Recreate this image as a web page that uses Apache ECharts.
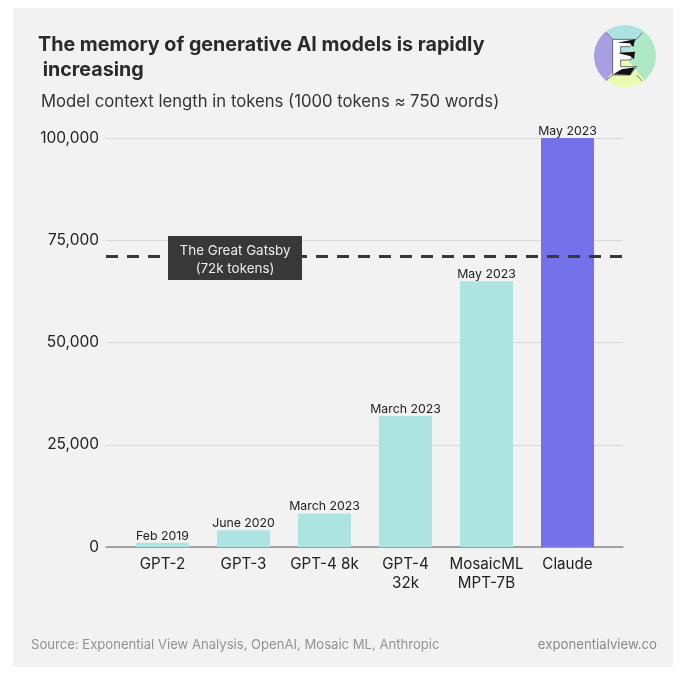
<!DOCTYPE html>
<html><head><meta charset="utf-8">
<style>html,body{margin:0;padding:0;background:#fff}#c{width:680px;height:675px}</style>
<script src="https://cdn.jsdelivr.net/npm/echarts@6/dist/echarts.min.js"></script>
</head><body><div id="c"></div>
<script>
const categories = ['GPT-2','GPT-3','GPT-4 8k','GPT-4\n32k','MosaicML\nMPT-7B','Claude'];
const tokens = [1024,4096,8192,32000,65000,100000];
const dates = ['Feb 2019','June 2020','March 2023','March 2023','May 2023','May 2023'];
const barColors = ['#ade3e0','#ade3e0','#ade3e0','#ade3e0','#ade3e0','#7571ea'];
const gatsbyLine = 71000;
const FONT = 'Inter';
const chart = echarts.init(document.getElementById('c'), null, {renderer:'canvas'});
function zp(p){return p.map(q=>[580+q[0]/3,10+q[1]/3]);}
function poly(points,fill,z,stroke){return {type:'polygon',shape:{points:zp(points)},style:{fill:fill,stroke:stroke||null,lineWidth:stroke?0.7:0},z:z,silent:true};}
function sector(a,b,fill){return {type:'sector',shape:{cx:625,cy:56,r:31,r0:0,startAngle:a,endAngle:b},style:{fill:fill},z:10,silent:true};}
function seg(x1,y1,x2,y2){return {type:'line',shape:{x1,y1,x2,y2},style:{stroke:'#555',lineWidth:0.8},z:14,silent:true};}
const d=Math.PI/180;
chart.setOption({
  animation:false,
  backgroundColor:'#ffffff',
  textStyle:{fontFamily:FONT},
  title:[
    {text:'The memory of generative AI models is rapidly\n increasing',left:33,top:28,
     textStyle:{fontFamily:FONT,fontSize:19.7,fontWeight:700,color:'#2b2b2b',lineHeight:25}},
    {text:'Model context length in tokens (1000 tokens ≈ 750 words)',left:36,top:86,
     textStyle:{fontFamily:FONT,fontSize:16.7,fontWeight:400,color:'#333',lineHeight:22}},
    {text:'Source: Exponential View Analysis, OpenAI, Mosaic ML, Anthropic',left:26,top:634,
     textStyle:{fontFamily:FONT,fontSize:13.1,fontWeight:400,color:'#929292'}},
    {text:'exponentialview.co',right:18,top:634,
     textStyle:{fontFamily:FONT,fontSize:13.2,fontWeight:400,color:'#8a8a8a'}}
  ],
  grid:[
    {left:106,right:57,top:138,height:409},
    {left:122,width:486,top:138,height:409}
  ],
  xAxis:[
    {type:'value',gridIndex:0,min:0,max:1,axisLabel:{show:false},axisTick:{show:false},splitLine:{show:false},
     axisLine:{show:true,onZero:true,lineStyle:{color:'#8c8c8c',width:1.5}}},
    {type:'category',gridIndex:1,data:categories,axisLine:{show:false},axisTick:{show:false},
     axisLabel:{fontFamily:FONT,fontSize:15.2,color:'#222222',lineHeight:19,margin:8,interval:0}}
  ],
  yAxis:[
    {type:'value',gridIndex:0,min:0,max:100000,interval:25000,
     axisLine:{show:false},axisTick:{show:false},
     splitLine:{lineStyle:{color:'#d8d8d8',width:1}},
     axisLabel:{fontFamily:FONT,fontSize:15.5,color:'#222222',margin:7,padding:[3,0,0,0],
       formatter:v=>v.toLocaleString('en-US')}},
    {type:'value',gridIndex:1,min:0,max:100000,show:false}
  ],
  series:[
    {type:'bar',xAxisIndex:1,yAxisIndex:1,barWidth:53,z:3,
     data:tokens.map((v,i)=>({value:v,itemStyle:{color:barColors[i],borderRadius:[1,1,0,0]}})),
     label:{show:true,position:'top',distance:1,fontFamily:FONT,fontSize:12.3,color:'#222222',
       formatter:p=>dates[p.dataIndex]}},
    {type:'line',xAxisIndex:0,yAxisIndex:0,data:[[0,gatsbyLine],[1,gatsbyLine]],showSymbol:false,silent:true,z:5,
     lineStyle:{color:'#383838',width:3,type:[12,9]}}
  ],
  graphic:[
    {type:'rect',shape:{x:13,y:8,width:660,height:659},style:{fill:'#f2f2f2'},z:-100,silent:true},
    {type:'rect',shape:{x:168,y:236,width:134,height:44},style:{fill:'#383838'},z:20,silent:true},
    {type:'text',x:235,y:260,z:21,silent:true,style:{text:'The Great Gatsby\n(72k tokens)',align:'center',verticalAlign:'middle',
      fill:'#eeeeee',fontFamily:FONT,fontSize:13.4,lineHeight:18}},
    sector(-128*d,-52*d,'#aee2e2'),
    sector(-52*d,52*d,'#aee8c4'),
    sector(52*d,128*d,'#e8fcb2'),
    sector(128*d,232*d,'#a99fe3'),
    poly([[98,88],[168,88],[150,110],[122,110],[122,128],[165,128],[152,150],[122,150],[122,170],[170,170],[150,195],[98,195]],'#ffffff',12,'#333'),
    poly([[112,98],[165,88],[160,112],[150,100]],'#111111',13),
    poly([[115,130],[165,125],[162,148],[150,138]],'#111111',13),
    poly([[100,193],[125,178],[165,172],[150,195]],'#111111',13),
    seg(606.7,32.7,612.7,39.3),
    seg(642.3,32.7,636.7,39.3),
    seg(642,81,636.7,75),
    seg(606,80.7,612.7,75)
  ]
});
</script></body></html>
